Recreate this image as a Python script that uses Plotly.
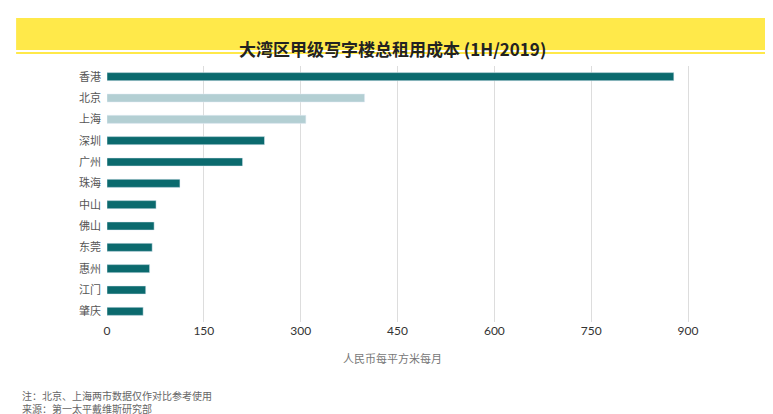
import plotly.graph_objects as go

cities = ["香港", "北京", "上海", "深圳", "广州", "珠海", "中山", "佛山", "东莞", "惠州", "江门", "肇庆"]
cost = [878, 399, 308, 244, 210, 113, 76, 73, 70, 66, 60, 56]
highlight = ["北京", "上海"]
ticks = [0, 150, 300, 450, 600, 750, 900]

colors = ["#b3cfd3" if c in highlight else "#0b6a6e" for c in cities]

fig = go.Figure()
fig.add_trace(go.Bar(y=cities, x=cost, orientation="h", marker_color=colors, width=0.38))

fig.update_layout(
    width=773, height=414,
    paper_bgcolor="white", plot_bgcolor="white",
    margin=dict(l=99, r=20, t=58, b=100),
    font=dict(family="Noto Sans CJK SC", size=11, color="#555"),
    showlegend=False,
    shapes=[
        dict(type="rect", xref="paper", yref="paper", x0=-0.139, x1=1.018, y0=1.0625, y1=1.1875,
             fillcolor="#ffe94a", line_width=0, layer="below"),
        dict(type="line", xref="paper", yref="paper", x0=-0.139, x1=1.018, y0=1.051, y1=1.051,
             line=dict(color="#ffe94a", width=2)),
    ],
    annotations=[
        dict(text="<b>大湾区甲级写字楼总租用成本 (1H/2019)</b>", xref="paper", yref="paper",
             x=0.436, y=1.125, showarrow=False, font=dict(size=17, color="#222")),
        dict(text="人民币每平方米每月", xref="paper", yref="paper", x=0.437, y=-0.18,
             showarrow=False, font=dict(size=11, color="#777")),
        dict(text="注：北京、上海两市数据仅作对比参考使用<br>来源：第一太平戴维斯研究部",
             xref="paper", yref="paper", x=-0.133, y=-0.25, xanchor="left", yanchor="top",
             align="left", showarrow=False, font=dict(size=10, color="#666")),
    ],
)
fig.update_xaxes(range=[0, 1013], tickvals=ticks, showgrid=True, gridcolor="#ddd",
                 zeroline=False, tickfont=dict(family="Lato", size=12, color="#333"))
fig.update_yaxes(autorange="reversed", ticksuffix="  ", tickfont=dict(size=11, color="#555"))

fig.write_html("out.html")
